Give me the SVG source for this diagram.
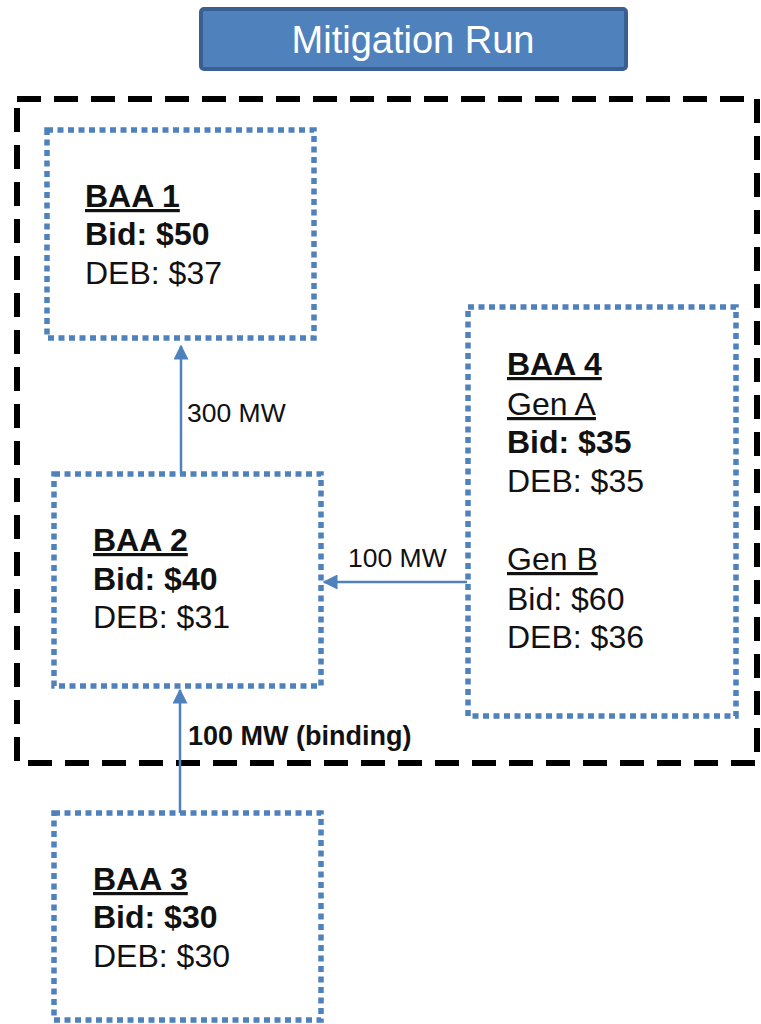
<svg xmlns="http://www.w3.org/2000/svg" width="761" height="1024" viewBox="0 0 761 1024">
<defs>
<style>
.box{fill:none;stroke:#4F81BD;stroke-width:5.5;stroke-dasharray:6 4.5}
.t{font-family:"Liberation Sans",Arial,sans-serif;font-size:32px;fill:#111}
.b{font-weight:bold}
.u{text-decoration:underline}
.lbl{font-family:"Liberation Sans",Arial,sans-serif;font-size:26.5px;fill:#111}
.lb{font-size:27px;font-weight:bold}
.conn{stroke:#4F81BD;stroke-width:2.5;fill:none;marker-end:url(#ah)}
</style>
<marker id="ah" viewBox="0 0 10 10" refX="9" refY="5" markerWidth="6" markerHeight="6" markerUnits="strokeWidth" orient="auto">
<path d="M0,0 L10,5 L0,10 z" fill="#4F81BD"/>
</marker>
</defs>
<rect width="761" height="1024" fill="#fff"/>
<g id="title">
<rect x="201" y="9" width="425" height="60" rx="3" fill="#4F81BD" stroke="#3A5F92" stroke-width="4"/>
<text x="413" y="53" text-anchor="middle" font-family="Liberation Sans,Arial,sans-serif" font-size="38" fill="#fff">Mitigation Run</text>
</g>
<g id="region">
<rect x="17" y="99" width="740" height="664" fill="none" stroke="#000" stroke-width="6" stroke-dasharray="24 13"/>
</g>
<g id="connectors">
<line class="conn" x1="181" y1="474" x2="181" y2="346"/>
<line class="conn" x1="467" y1="582" x2="324" y2="582"/>
<line class="conn" x1="180" y1="813" x2="180" y2="690"/>
<text class="lbl" x="187" y="422">300 MW</text>
<text class="lbl" x="348" y="567">100 MW</text>
<text class="lbl lb" x="188" y="745">100 MW (binding)</text>
</g>
<g id="baa1">
<rect class="box" x="47" y="130" width="267" height="208"/>
<text class="t b u" x="85" y="207">BAA 1</text>
<text class="t b" x="85" y="245">Bid: $50</text>
<text class="t" x="85" y="284">DEB: $37</text>
</g>
<g id="baa2">
<rect class="box" x="54" y="474" width="267" height="212"/>
<text class="t b u" x="93" y="551">BAA 2</text>
<text class="t b" x="93" y="590">Bid: $40</text>
<text class="t" x="93" y="628">DEB: $31</text>
</g>
<g id="baa4">
<rect class="box" x="468" y="307" width="268" height="409"/>
<text class="t b u" x="507" y="375">BAA 4</text>
<text class="t u" x="507" y="415">Gen A</text>
<text class="t b" x="507" y="453">Bid: $35</text>
<text class="t" x="507" y="492">DEB: $35</text>
<text class="t u" x="507" y="570">Gen B</text>
<text class="t" x="507" y="610">Bid: $60</text>
<text class="t" x="507" y="648">DEB: $36</text>
</g>
<g id="baa3">
<rect class="box" x="54" y="813" width="267" height="207"/>
<text class="t b u" x="93" y="890">BAA 3</text>
<text class="t b" x="93" y="928">Bid: $30</text>
<text class="t" x="93" y="967">DEB: $30</text>
</g>
</svg>
